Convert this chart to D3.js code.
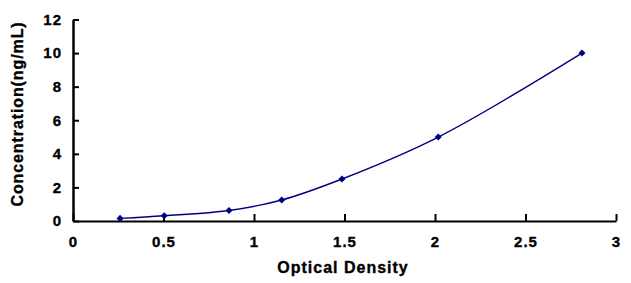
<!DOCTYPE html>
<html>
<head>
<meta charset="utf-8">
<script src="https://cdn.jsdelivr.net/npm/d3@7"></script>
<style>
  body { margin: 0; background: #fff; }
  svg text { font-family: "Liberation Sans", Arial, sans-serif; font-weight: bold; fill: #000; stroke: #000; stroke-width: 0.35px; }
</style>
</head>
<body>
<div id="chart"></div>
<script>
// Standard curve data
const opticalDensity = [0.26, 0.504, 0.862, 1.153, 1.486, 2.018, 2.812];
const concentration = [0.156, 0.312, 0.625, 1.25, 2.5, 5, 10];
const xTicks = [0, 0.5, 1, 1.5, 2, 2.5, 3];
const yTicks = [0, 2, 4, 6, 8, 10, 12];

const width = 631, height = 283;
const margin = { left: 73, right: 15, top: 19.5, bottom: 62 };

const svg = d3.select("#chart").append("svg")
  .attr("width", width)
  .attr("height", height);

const x = d3.scaleLinear().domain([0, 3]).range([margin.left, width - margin.right]);
const y = d3.scaleLinear().domain([0, 12]).range([height - margin.bottom, margin.top]);

// Axes (ticks pointing inward)
const xAxis = svg.append("g")
  .attr("transform", `translate(0,${y(0)})`)
  .call(d3.axisBottom(x).tickValues(xTicks).tickSize(-7).tickSizeOuter(0).tickFormat(d3.format("")));
xAxis.select(".domain").attr("stroke-width", 2.2);
xAxis.selectAll(".tick line").attr("stroke-width", 2);
xAxis.selectAll(".tick text")
  .attr("y", 26)
  .attr("dy", 0)
  .style("font-size", "15px")
  .style("letter-spacing", "1px");

const yAxis = svg.append("g")
  .attr("transform", `translate(${x(0)},0)`)
  .call(d3.axisLeft(y).tickValues(yTicks).tickSize(-6).tickSizeOuter(0));
yAxis.select(".domain").attr("stroke-width", 2.5);
yAxis.selectAll(".tick line").attr("stroke-width", 2);
yAxis.selectAll(".tick text")
  .attr("x", -11)
  .style("font-size", "15px")
  .style("letter-spacing", "1px");

// Axis titles
svg.append("text")
  .attr("x", 343)
  .attr("y", 273)
  .attr("text-anchor", "middle")
  .style("font-size", "16px")
  .style("letter-spacing", "1px")
  .text("Optical Density");

svg.append("text")
  .attr("transform", "translate(23,114) rotate(-90)")
  .attr("text-anchor", "middle")
  .style("font-size", "16px")
  .style("letter-spacing", "0.9px")
  .text("Concentration(ng/mL)");

// Curve and markers
const points = opticalDensity.map((d, i) => [d, concentration[i]]);

const line = d3.line()
  .x(d => x(d[0]))
  .y(d => y(d[1]))
  .curve(d3.curveCatmullRom.alpha(0.5));

svg.append("path")
  .datum(points)
  .attr("fill", "none")
  .attr("stroke", "#000080")
  .attr("stroke-width", 1.4)
  .attr("d", line);

svg.append("g")
  .selectAll("path")
  .data(points)
  .join("path")
  .attr("transform", d => `translate(${x(d[0])},${y(d[1])}) rotate(45)`)
  .attr("d", d3.symbol(d3.symbolSquare, 25))
  .attr("fill", "#000080");
</script>
</body>
</html>
